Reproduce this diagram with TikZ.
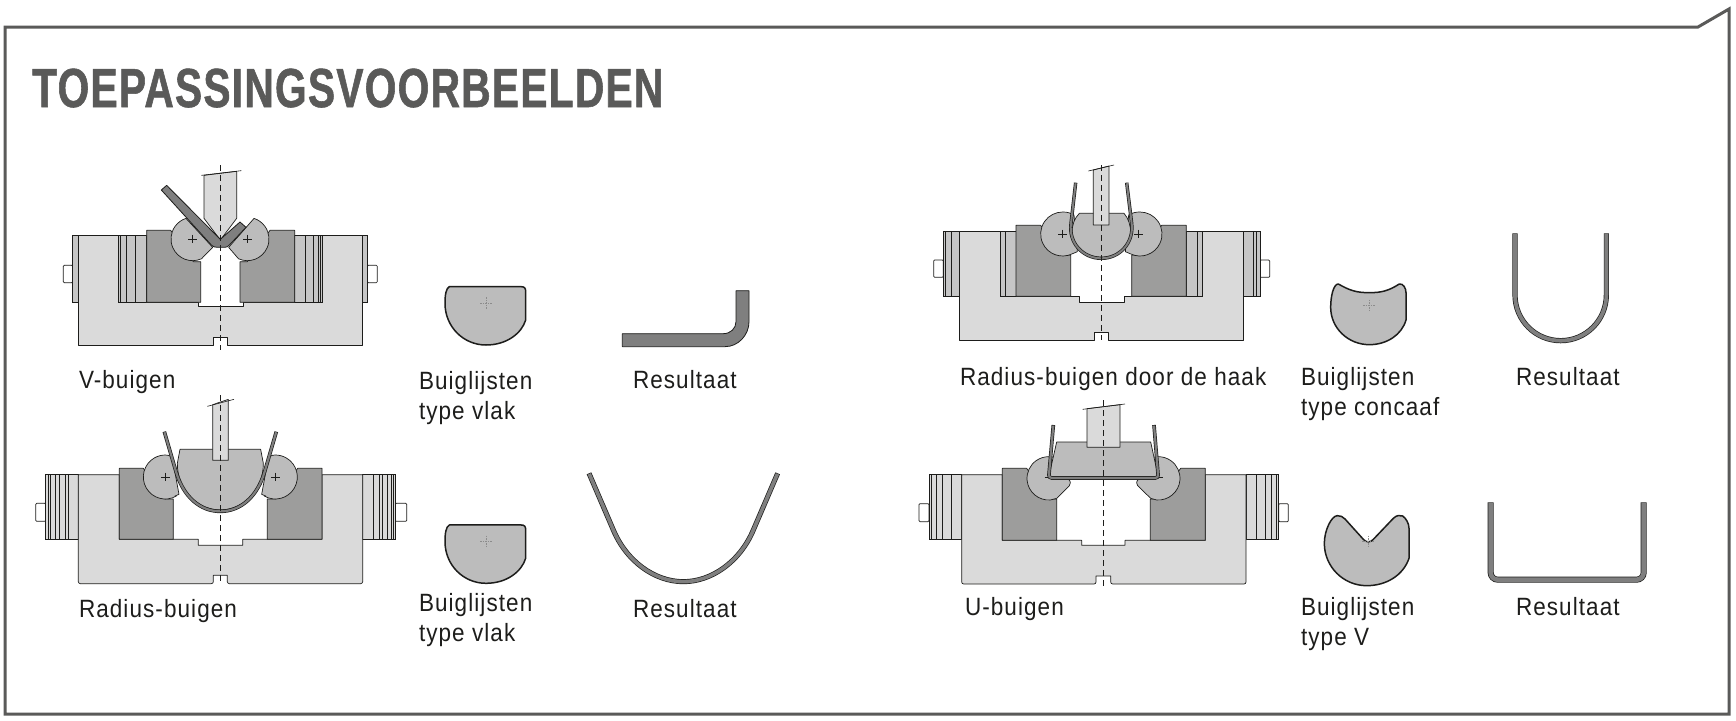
\documentclass[tikz,border=0pt]{standalone}
\usepackage{fontspec}
\setmainfont{Liberation Sans}
\newfontfamily\titlefont[FakeStretch=0.74,FakeBold=1.0,LetterSpace=2.3]{Liberation Sans Bold}
\newfontfamily\labelfont[FakeStretch=0.9,LetterSpace=4.3]{Liberation Sans}
\definecolor{ink}{HTML}{1D1D1B}
\definecolor{framegray}{HTML}{5A5A59}
\definecolor{lightfill}{HTML}{DADADA}
\definecolor{stripfill}{HTML}{C6C6C6}
\definecolor{blockfill}{HTML}{9D9D9C}
\definecolor{rollfill}{HTML}{BCBCBC}
\definecolor{sheetfill}{HTML}{7F7F7F}
\tikzset{
  basebody/.style={fill=lightfill,draw=ink,line width=.7pt,line join=round},
  stripbox/.style={fill=stripfill,draw=ink,line width=.6pt},
  paleStrip/.style={fill=lightfill,draw=ink,line width=.6pt},
  pinbox/.style={fill=white,draw=ink,line width=.7pt,rounded corners=1pt},
  blockbody/.style={fill=blockfill,draw=ink,line width=.7pt,line join=round},
  rollbody/.style={fill=rollfill,draw=ink,line width=.7pt,line join=round},
  punchbody/.style={fill=lightfill,draw=ink,line width=.7pt,line join=round},
  thinline/.style={draw=ink,line width=.6pt},
  axisline/.style={draw=ink,line width=.6pt,dash pattern=on 6pt off 4pt},
  dieshape/.style={fill=rollfill,draw=ink,line width=1.5pt,line join=round},
  sheetpoly/.style={fill=sheetfill,draw=ink,line width=.8pt,line join=round},
  sheetline/.style={draw=sheetfill,line width=#1,line join=round,shorten <=.6pt,shorten >=.6pt,
    preaction={draw=ink,line width=#1+1.4pt,shorten <=0pt,shorten >=0pt}},
  centermark/.style={draw=black!45,line width=.4pt,dash pattern=on 1.5pt off 1pt},
  lbl/.style={font=\labelfont\fontsize{25}{30}\selectfont,text=ink,anchor=base west,inner sep=0pt,outer sep=0pt,align=left},
}
\newcommand\crossat[2]{\draw[thinline] (#1-13,#2) -- (#1+13,#2) (#1,#2-13) -- (#1,#2+13);}
\newcommand\dimark[2]{\draw[centermark] (#1-18,#2) -- (#1+18,#2) (#1,#2-18) -- (#1,#2+18);}
\newcommand\flatdie{\path[dieshape] (118,80) -- (333,80) .. controls (343,80) and (347,84) .. (347,94) -- (347,180)
   .. controls (335,220) and (290,255) .. (228,255) .. controls (160,255) and (105,200) .. (105,130) .. controls (105,105) and (108,85) .. (118,80) -- cycle;
   \dimark{229}{130}}
\begin{document}
\begin{tikzpicture}[x=1pt,y=1pt]
\useasboundingbox (0,0) rectangle (1736,-720);
\fill[white] (0,0) rectangle (1736,-720);
\draw[framegray,line width=3pt,line join=miter] (5,-27) -- (1698,-27) -- (1729,-9) -- (1729,-714) -- (5,-714) -- cycle;
\node[font=\titlefont\fontsize{55}{55}\selectfont,text=framegray,anchor=base west,inner sep=0pt] (title) at (32,-107) {TOEPASSINGSVOORBEELDEN};

% ---------- V-buigen
\begin{scope}[shift={(30,-150)},xscale=1/3,yscale=-1/3]
\path[pinbox] (100,346) rectangle (128,398);
\path[pinbox] (1012,346) rectangle (1042,398);
\path[stripbox] (128,257) rectangle (145,457);
\path[stripbox] (998,257) rectangle (1012,457);
\path[basebody] (145,257) -- (145,585) -- (550,585) -- (550,562) -- (592,562) -- (592,585) -- (998,585) -- (998,257) -- (878,257) -- (878,457) -- (640,457) -- (640,470) -- (505,470) -- (505,457) -- (265,457) -- (265,257) -- cycle;
\path[stripbox] (265,257) rectangle (350,457);
\path[stripbox] (794,257) rectangle (878,457);
\draw[thinline] (272,257)--(272,457) (290,257)--(290,457) (316,257)--(316,457) (825,257)--(825,457) (851,257)--(851,457) (866,257)--(866,457) (872,257)--(872,457);
\path[blockbody] (350,241) -- (422,241) -- (490,335) -- (512,335) -- (512,457) -- (350,457) -- cycle;
\path[blockbody] (794,241) -- (720,241) -- (652,335) -- (630,335) -- (630,457) -- (794,457) -- cycle;
\path[punchbody] (522,76) -- (522,205) -- (571,270) -- (620,205) -- (620,64) -- cycle;
\draw[thinline] (514,76) -- (634,62);
\path[rollbody] (488,267) ++(66:65) arc (66:252:65) -- (548,292) -- cycle;
\path[rollbody] (652,267) ++(114:65) arc (114:-72:65) -- (596,292) -- cycle;
\crossat{488}{267}\crossat{652}{267}
\path[sheetpoly] (394,120) -- (410,106) -- (571,268) -- (630,216) -- (648,232) -- (598,285) .. controls (594,290) and (590,292) .. (584,292) -- (562,292) .. controls (554,292) and (548,290) .. (544,285) -- cycle;
\draw[axisline] (571,45) -- (571,600);
\end{scope}

% ---------- Radius-buigen
\begin{scope}[shift={(30,-400)},xscale=1/3,yscale=-1/3]
\path[pinbox] (17,310) rectangle (47,364);
\path[pinbox] (1096,310) rectangle (1130,364);
\path[paleStrip] (47,224) rectangle (145,418);
\path[paleStrip] (998,224) rectangle (1096,418);
\draw[thinline] (55,224)--(55,418) (62,224)--(62,418) (75,224)--(75,418) (89,224)--(89,418) (105,224)--(105,418) (115,224)--(115,418)
 (1030,224)--(1030,418) (1047,224)--(1047,418) (1057,224)--(1057,418) (1072,224)--(1072,418) (1085,224)--(1085,418) (1090,224)--(1090,418);
\path[basebody] (145,224) [rounded corners=2pt] -- (145,551) -- (550,551) [sharp corners] -- (550,526) -- (592,526) [rounded corners=2pt] -- (592,551) -- (998,551) [sharp corners] -- (998,224) -- (876,224) -- (876,418) -- (638,418) -- (638,436) -- (505,436) -- (505,418) -- (268,418) -- (268,224) -- cycle;
\path[blockbody] (268,205) -- (340,205) -- (405,297) -- (430,297) -- (430,418) -- (268,418) -- cycle;
\path[blockbody] (876,205) -- (803,205) -- (736,297) -- (712,297) -- (712,418) -- (876,418) -- cycle;
\path[rollbody] (406,231) ++(60:66) arc (60:270:66) .. controls (420,165) and (425,170) .. (428,180) -- (447,283) .. controls (435,288) and (430,290) .. (439,288) -- cycle;
\path[rollbody] (736,231) ++(120:66) arc (120:-90:66) .. controls (722,165) and (717,170) .. (714,180) -- (695,283) .. controls (707,288) and (712,290) .. (703,288) -- cycle;
\crossat{406}{231}\crossat{736}{231}
\path[rollbody] (450,148) -- (692,148) -- (700,190) .. controls (700,270) and (640,330) .. (571,330) .. controls (502,330) and (442,270) .. (442,190) -- cycle;
\path[punchbody] (548,14) -- (548,181) -- (595,181) -- (595,-2) -- cycle;
\draw[thinline] (532,19) -- (612,-2);
\draw[sheetline=2.2pt] (403,95) -- (438,215) .. controls (460,290) and (510,334) .. (571,334) .. controls (632,334) and (682,290) .. (704,215) -- (739,95);
\draw[axisline] (571,-15) -- (571,551);
\end{scope}

% ---------- Radius-buigen door de haak
\begin{scope}[shift={(920,-160)},xscale=1/3,yscale=-1/3]
\path[pinbox] (41,300) rectangle (70,352);
\path[pinbox] (1020,300) rectangle (1049,352);
\path[stripbox] (70,214) rectangle (119,409);
\path[stripbox] (970,214) rectangle (1020,409);
\draw[thinline] (76,214)--(76,409) (93,214)--(93,409) (1000,214)--(1000,409) (1010,214)--(1010,409);
\path[basebody] (119,214) -- (119,541) -- (523,541) -- (523,518) -- (565,518) -- (565,541) -- (970,541) -- (970,214) -- (848,214) -- (848,409) -- (613,409) -- (613,427) -- (478,427) -- (478,409) -- (240,409) -- (240,214) -- cycle;
\path[stripbox] (240,214) rectangle (288,409);
\path[stripbox] (799,214) rectangle (848,409);
\draw[thinline] (256,214)--(256,409) (832,214)--(832,409);
\path[blockbody] (288,196) -- (362,196) -- (428,285) -- (452,285) -- (452,409) -- (288,409) -- cycle;
\path[blockbody] (799,196) -- (725,196) -- (660,285) -- (635,285) -- (635,409) -- (799,409) -- cycle;
\path[rollbody] (428,222) ++(65:66) arc (65:270:66) .. controls (440,156) and (450,158) .. (462,165) -- (472,275) -- cycle;
\path[rollbody] (660,222) ++(115:66) arc (115:-90:66) .. controls (648,156) and (638,158) .. (626,165) -- (616,275) -- cycle;
\crossat{428}{222}\crossat{656}{222}
\path[rollbody] (478,160) -- (612,160) .. controls (625,175) and (632,195) .. (632,220) .. controls (632,262) and (592,292) .. (544,292) .. controls (496,292) and (456,262) .. (456,220) .. controls (456,195) and (463,175) .. (478,160) -- cycle;
\path[punchbody] (520,30) -- (520,195) -- (567,195) -- (567,18) -- cycle;
\draw[thinline] (505,33) -- (582,15);
\draw[sheetline=2pt] (467,68) -- (453,190) .. controls (445,250) and (490,295) .. (544,295) .. controls (598,295) and (642,250) .. (635,190) -- (620,68);
\draw[axisline] (544,15) -- (544,541);
\end{scope}

% ---------- U-buigen
\begin{scope}[shift={(910,-400)},xscale=1/3,yscale=-1/3]
\path[pinbox] (27,311) rectangle (57,365);
\path[pinbox] (1106,311) rectangle (1135,365);
\path[paleStrip] (57,224) rectangle (155,418);
\path[paleStrip] (1008,224) rectangle (1106,418);
\draw[thinline] (63,224)--(63,418) (80,224)--(80,418) (97,224)--(97,418) (125,224)--(125,418)
 (1040,224)--(1040,418) (1065,224)--(1065,418) (1083,224)--(1083,418) (1098,224)--(1098,418);
\path[basebody] (155,224) [rounded corners=2pt] -- (155,552) -- (558,552) [sharp corners] -- (558,528) -- (602,528) [rounded corners=2pt] -- (602,552) -- (1008,552) [sharp corners] -- (1008,224) -- (886,224) -- (886,421) -- (645,421) -- (645,436) -- (515,436) -- (515,421) -- (277,421) -- (277,224) -- cycle;
\path[blockbody] (277,205) -- (350,205) -- (416,297) -- (440,297) -- (440,421) -- (277,421) -- cycle;
\path[blockbody] (886,205) -- (812,205) -- (745,297) -- (721,297) -- (721,421) -- (886,421) -- cycle;
\path[rollbody] (416,235) ++(85:65) arc (85:270:65) -- (440,172) -- (420,232) -- (476,238) .. controls (483,245) and (482,252) .. (478,257) -- (440,295) -- cycle;
\path[rollbody] (745,235) ++(95:65) arc (95:-90:65) -- (725,172) -- (745,232) -- (685,238) .. controls (678,245) and (679,252) .. (683,257) -- (722,295) -- cycle;
\path[rollbody] (440,126) -- (722,126) -- (745,232) -- (416,232) -- cycle;
\path[punchbody] (531,26) -- (531,142) -- (630,142) -- (630,14) -- cycle;
\draw[thinline] (518,28) -- (645,12);
\draw[thinline] (404,232) -- (430,232) (732,232) -- (758,232);
\draw[sheetline=2.2pt,rounded corners=3pt] (430,75) -- (416,234) -- (745,234) -- (732,75);
\draw[axisline] (580,0) -- (580,560);
\end{scope}

% ---------- Die profiles, flat
\begin{scope}[shift={(410,-260)},xscale=1/3,yscale=-1/3]
\flatdie
\path[sheetpoly] (637,221) -- (940,221) .. controls (962,221) and (978,205) .. (978,185) -- (978,92) -- (1017,92) -- (1017,185) .. controls (1017,225) and (985,260) .. (945,260) -- (637,260) -- cycle;
\end{scope}
\begin{scope}[shift={(410,-498.3)},xscale=1/3,yscale=-1/3]
\flatdie
\end{scope}
\begin{scope}[shift={(410,-260)},xscale=1/3,yscale=-1/3]
\draw[sheetline=3.6pt] (537,640) -- (610,810) .. controls (650,905) and (735,965) .. (820,965) .. controls (905,965) and (990,905) .. (1030,810) -- (1103,640);
\end{scope}

% ---------- Die profiles, right column
\begin{scope}[shift={(1300,-220)},xscale=1/3,yscale=-1/3]
\path[dieshape] (318,300) .. controls (305,345) and (260,374) .. (208,374) .. controls (145,374) and (92,325) .. (92,262) .. controls (92,230) and (100,192) .. (115,192) .. controls (150,212) and (170,218) .. (208,218) .. controls (246,218) and (266,212) .. (298,192) .. controls (310,190) and (318,205) .. (318,218) -- cycle;
\dimark{208}{257}
\draw[sheetline=3.8pt] (645,40) -- (645,225) arc (180:0:137) -- (919,40);
\path[dieshape] (327,1015) .. controls (310,1065) and (260,1097) .. (200,1097) .. controls (130,1097) and (73,1040) .. (73,970) .. controls (73,930) and (95,887) .. (112,887) .. controls (122,887) and (128,890) .. (135,897) -- (190,958) .. controls (198,968) and (212,968) .. (220,958) -- (280,895) .. controls (290,885) and (300,885) .. (308,888) .. controls (318,895) and (327,910) .. (327,925) -- cycle;
\dimark{205}{965}
\draw[sheetline=4.6pt,rounded corners=7pt] (572,847) -- (572,1079) -- (1031,1079) -- (1031,847);
\end{scope}

% ---------- Labels
\node[lbl] (lv) at (79,-388) {V-buigen};
\node[lbl] (lb1) at (419,-419) {Buiglijsten\\type vlak};
\node[lbl] (lr1) at (633,-388) {Resultaat};
\node[lbl] (lrad) at (79,-617) {Radius-buigen};
\node[lbl] (lb2) at (419,-641) {Buiglijsten\\type vlak};
\node[lbl] (lr2) at (633,-617) {Resultaat};
\node[lbl] (lhaak) at (960,-385) {Radius-buigen door de haak};
\node[lbl] (lb3) at (1301,-415) {Buiglijsten\\type concaaf};
\node[lbl] (lr3) at (1516,-385) {Resultaat};
\node[lbl] (lu) at (965,-615) {U-buigen};
\node[lbl] (lb4) at (1301,-645) {Buiglijsten\\type V};
\node[lbl] (lr4) at (1516,-615) {Resultaat};
\end{tikzpicture}
\end{document}
